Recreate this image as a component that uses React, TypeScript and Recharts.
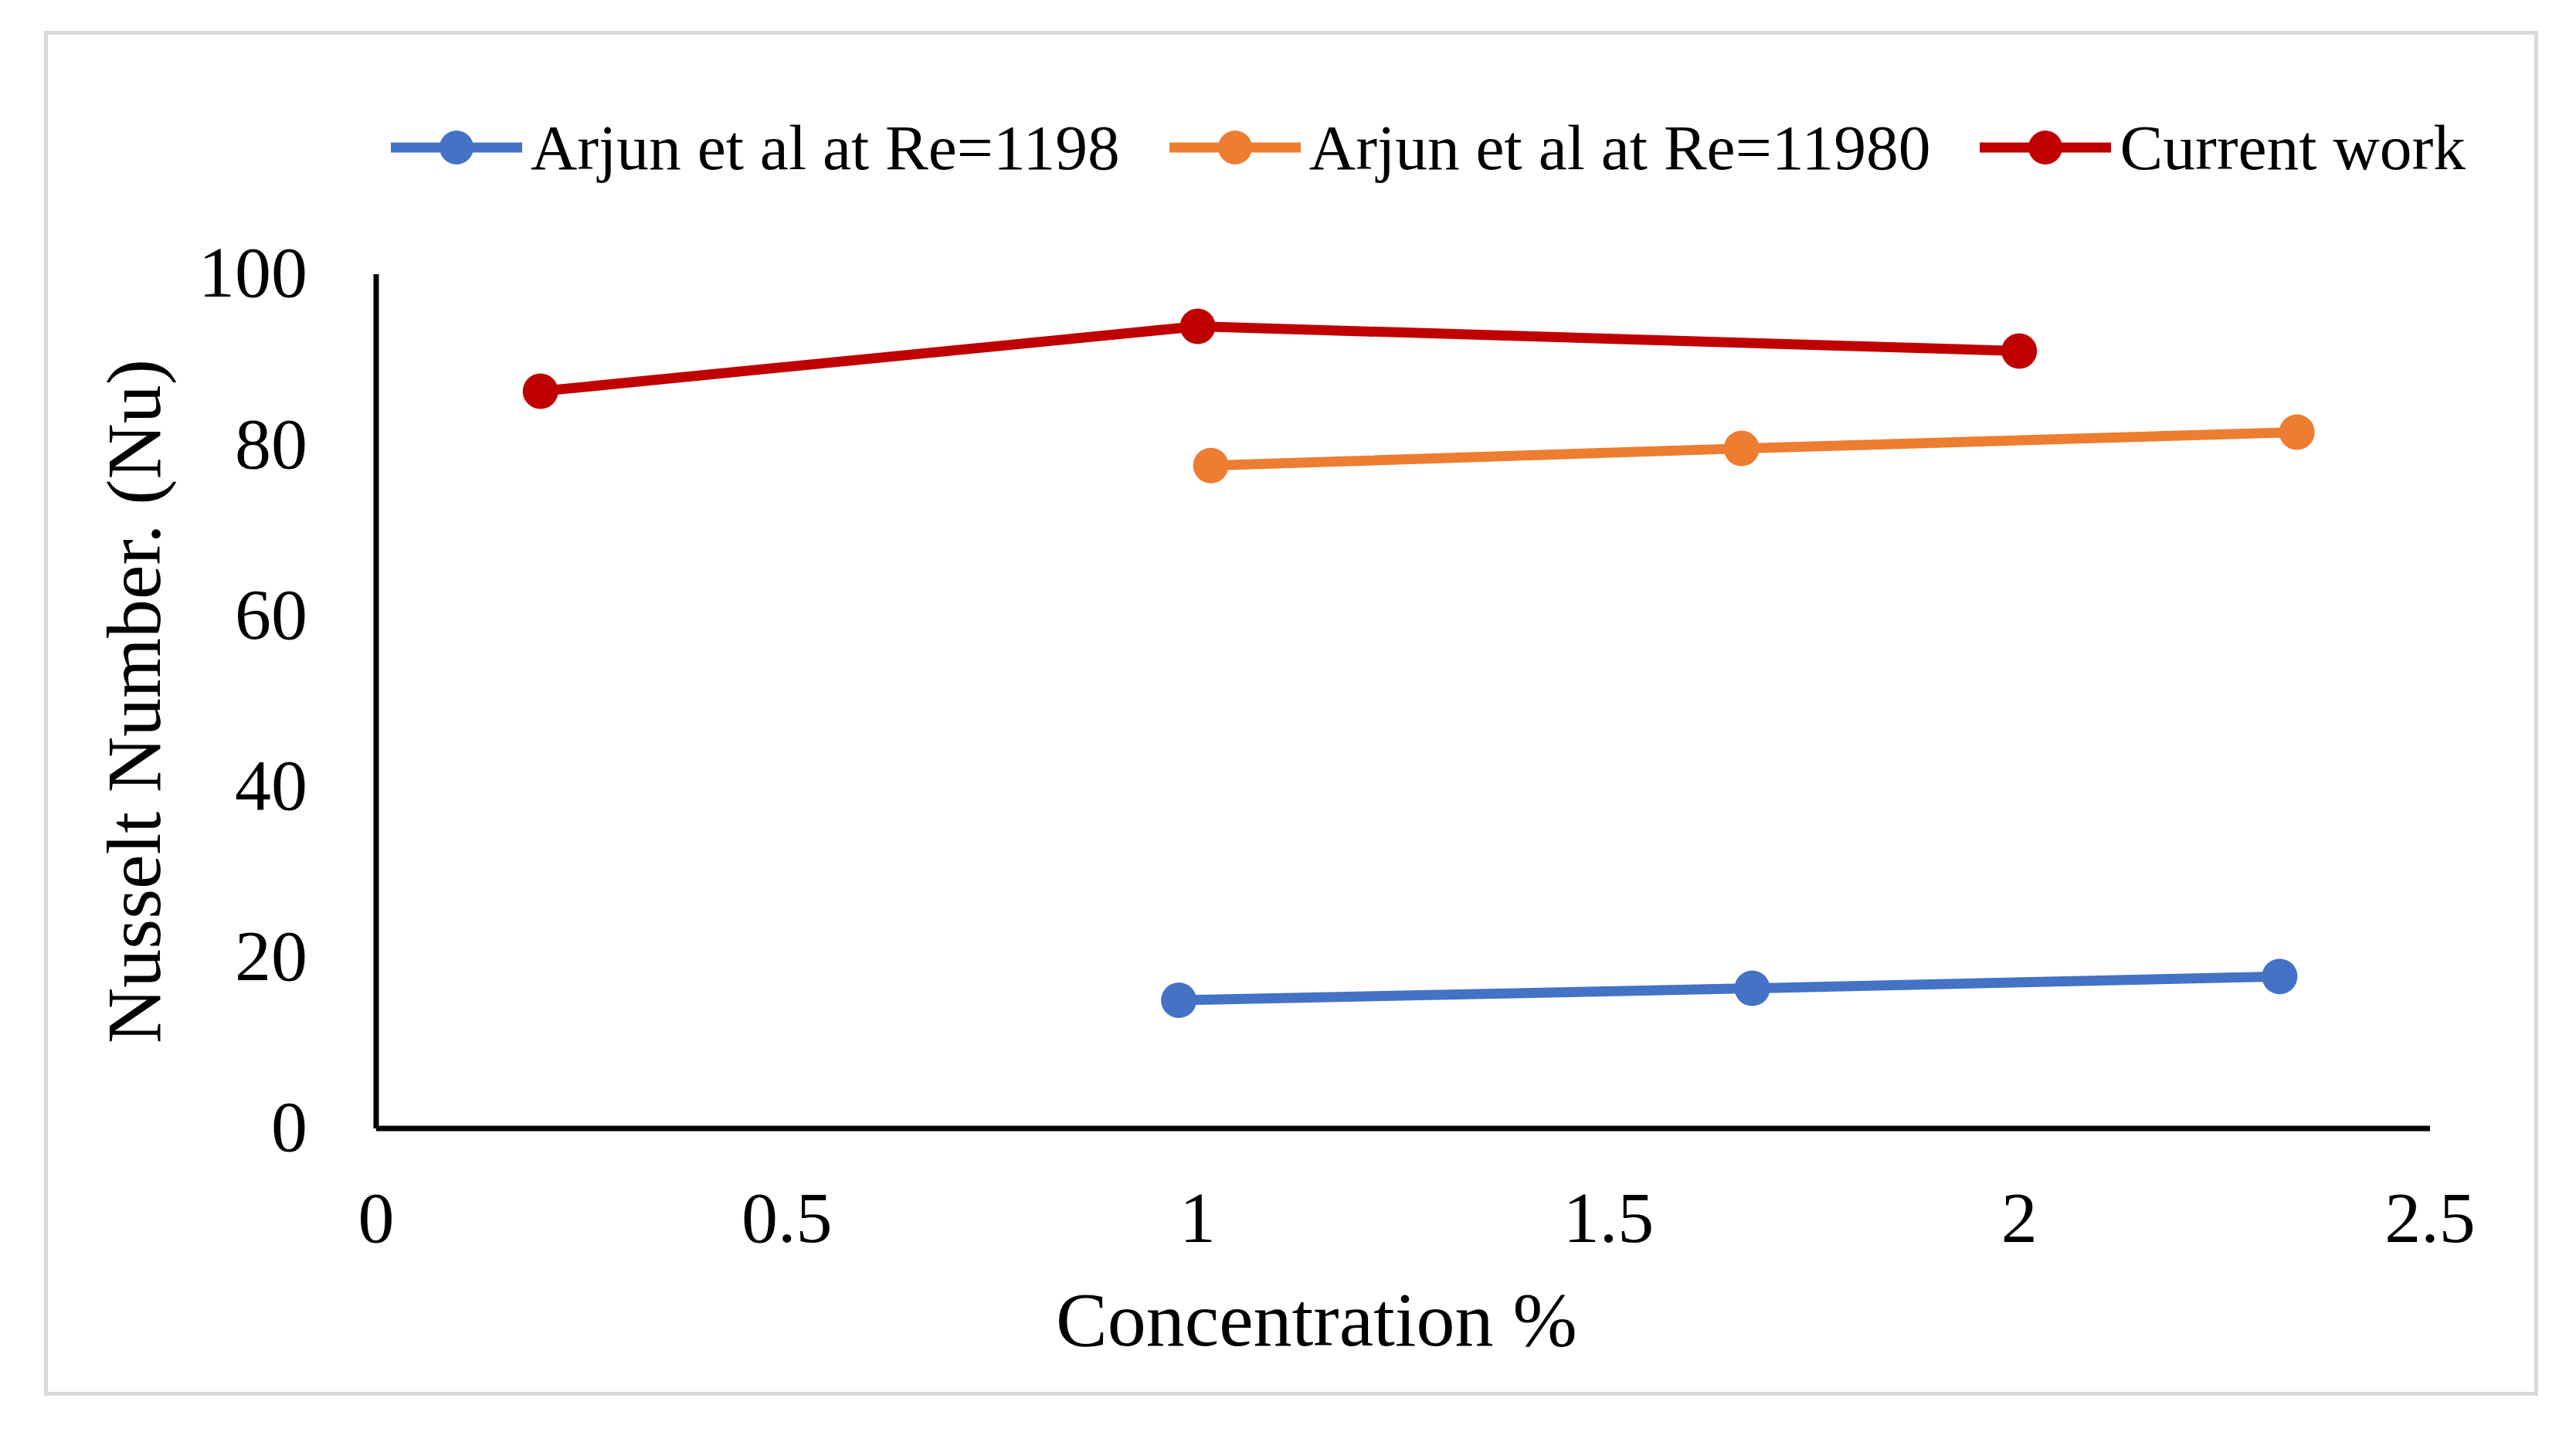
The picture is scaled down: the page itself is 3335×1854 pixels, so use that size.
import { LineChart, Line, XAxis, YAxis, Legend } from 'recharts';

const FONT = '"Times New Roman", "Liberation Serif", serif';

// concentration (%) and Nusselt number per series
const arjun1198Conc = [0.977, 1.675, 2.317];
const arjun1198Nu = [15.0, 16.4, 17.8];
const arjun11980Conc = [1.016, 1.662, 2.338];
const arjun11980Nu = [77.6, 79.6, 81.5];
const currentConc = [0.2, 1.0, 2.0];
const currentNu = [86.3, 93.9, 91.0];

const xTicks = [0, 0.5, 1, 1.5, 2, 2.5];
const yTicks = [0, 20, 40, 60, 80, 100];

const toPoints = (xs: number[], ys: number[]) => xs.map((x, i) => ({ x, y: ys[i] }));

const SERIES = [
  { name: 'Arjun et al at Re=1198', color: '#4472C4', data: toPoints(arjun1198Conc, arjun1198Nu) },
  { name: 'Arjun et al at Re=11980', color: '#ED7D31', data: toPoints(arjun11980Conc, arjun11980Nu) },
  { name: 'Current work', color: '#C00000', data: toPoints(currentConc, currentNu) },
];

function LegendContent(props: any) {
  const items = props.payload ?? [];
  return (
    <div style={{ display: 'flex', alignItems: 'center', gap: 64 }}>
      {items.map((p: any) => (
        <div key={p.value} style={{ display: 'flex', alignItems: 'center' }}>
          <svg width={170} height={60}>
            <line x1={0} y1={30} x2={170} y2={30} stroke={p.color} strokeWidth={13} />
            <circle cx={85} cy={30} r={22} fill={p.color} />
          </svg>
          <span style={{ marginLeft: 11, fontSize: 83.5, lineHeight: '100px', fontFamily: FONT, color: '#000', whiteSpace: 'nowrap' }}>
            {p.value}
          </span>
        </div>
      ))}
    </div>
  );
}

function YTitle(props: any) {
  const { viewBox } = props;
  const x = viewBox.x + 207;
  const y = viewBox.y + viewBox.height / 2;
  return (
    <text x={x} y={y} transform={`rotate(-90, ${x}, ${y})`} textAnchor="middle"
      fontFamily={FONT} fontSize={100} fill="#000">
      Nusselt Number. (Nu)
    </text>
  );
}

function XTitle(props: any) {
  const { viewBox } = props;
  const x = viewBox.x + viewBox.width / 2 - 112;
  const y = viewBox.y + 281;
  return (
    <text x={x} y={y} textAnchor="middle" fontFamily={FONT} fontSize={100} fill="#000">
      Concentration %
    </text>
  );
}

export default function App() {
  const tick = { fontSize: 94, fill: '#000', fontFamily: FONT };
  return (
    <div style={{ position: 'absolute', left: 0, top: 0, width: 3335, height: 1854, background: '#fff' }}>
      <div style={{
        position: 'absolute', left: 57, top: 40, width: 3229, height: 1767,
        border: '5px solid #d9d9d9', boxSizing: 'border-box'
      }} />
      <LineChart width={3335} height={1854} margin={{ top: 355, right: 189, bottom: 143, left: 0 }}>
        <XAxis
          type="number"
          dataKey="x"
          domain={[0, 2.5]}
          ticks={xTicks}
          allowDuplicatedCategory={false}
          height={250}
          tick={tick}
          tickLine={false}
          tickSize={0}
          tickMargin={80}
          axisLine={{ stroke: '#000', strokeWidth: 7 }}
          label={<XTitle />}
        />
        <YAxis
          type="number"
          domain={[0, 100]}
          ticks={yTicks}
          width={487}
          tick={{ ...tick, dy: -4 }}
          tickLine={false}
          tickSize={0}
          tickMargin={89}
          axisLine={{ stroke: '#000', strokeWidth: 7 }}
          label={<YTitle />}
        />
        <Legend
          layout="horizontal"
          verticalAlign="middle"
          align="center"
          content={<LegendContent />}
          wrapperStyle={{ top: 141, left: 506, width: 'auto' }}
        />
        {SERIES.map((s) => (
          <Line
            key={s.name}
            data={s.data}
            dataKey="y"
            name={s.name}
            stroke={s.color}
            strokeWidth={13}
            dot={{ r: 23, fill: s.color, stroke: s.color, strokeWidth: 0 }}
            activeDot={false}
            isAnimationActive={false}
          />
        ))}
      </LineChart>
    </div>
  );
}
